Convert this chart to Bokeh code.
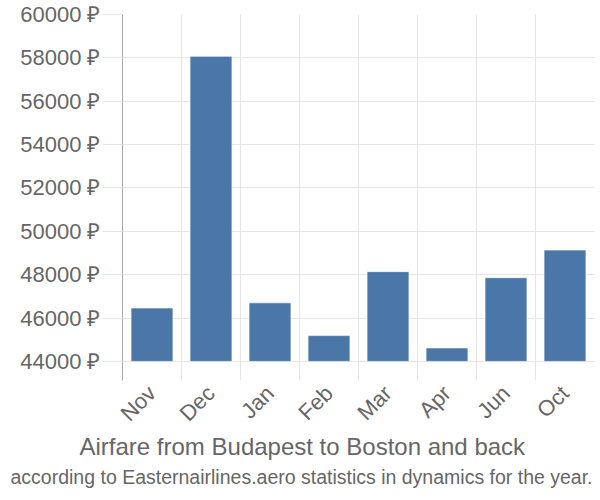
from bokeh.plotting import figure
from bokeh.models import FixedTicker, Range1d, Title
from bokeh.embed import file_html
from bokeh.resources import INLINE

months = ["Nov", "Dec", "Jan", "Feb", "Mar", "Apr", "Jun", "Oct"]
prices = [46460, 58070, 46700, 45190, 48140, 44620, 47860, 49135]
y_ticks = [44000, 46000, 48000, 50000, 52000, 54000, 56000, 58000, 60000]
title_text = "Airfare from Budapest to Boston and back"
subtitle_text = "according to Easternairlines.aero statistics in dynamics for the year."

n = len(months)
centers = [i + 0.5 for i in range(n)]
bounds = list(range(n + 1))

# 44000 sits 19px above frame bottom; 2000 per ~43.1px
y_lo = 44000 - 19 / 43.125 * 2000

p = figure(width=598, height=499, output_backend="svg", toolbar_location=None,
           x_range=Range1d(0, n), y_range=Range1d(y_lo, 60000),
           min_border_left=122, min_border_right=4, min_border_top=14,
           min_border_bottom=10)
p.outline_line_color = None
p.background_fill_color = "white"

p.vbar(x=centers, top=prices, bottom=44000, width=0.71,
       fill_color="#4a77a8", line_color="#ffffff", line_width=1, line_alpha=0.6)

# y axis
p.yaxis.ticker = FixedTicker(ticks=y_ticks)
p.yaxis.major_label_overrides = {t: f"{t} \u20bd" for t in y_ticks}
p.yaxis.axis_line_color = "#a8a8a8"
p.yaxis.axis_line_width = 1
p.yaxis.major_tick_line_color = "#e6e6e6"
p.yaxis.major_tick_out = 20
p.yaxis.major_tick_in = 0
p.yaxis.minor_tick_line_color = None
p.yaxis.major_label_standoff = 2
p.yaxis.major_label_text_font = "Liberation Sans"
p.yaxis.major_label_text_font_size = "22px"
p.yaxis.major_label_text_color = "#666666"
p.ygrid.ticker = FixedTicker(ticks=y_ticks)
p.ygrid.grid_line_color = "#e6e6e6"

# x axis
p.xaxis.ticker = FixedTicker(ticks=centers)
p.xaxis.major_label_overrides = {c: m for c, m in zip(centers, months)}
p.xaxis.axis_line_color = None
p.xaxis.major_tick_line_color = None
p.xaxis.minor_tick_line_color = None
p.xaxis.major_label_orientation = 0.785398
p.xaxis.major_label_standoff = 3
p.xaxis.major_label_text_font = "Liberation Sans"
p.xaxis.major_label_text_font_size = "22px"
p.xaxis.major_label_text_color = "#666666"
p.xgrid.ticker = FixedTicker(ticks=bounds)
p.xgrid.grid_line_color = "#e6e6e6"

t1 = Title(text=title_text, align="left", offset=-43, text_font="Liberation Sans",
           text_font_size="24px", text_color="#666666", text_font_style="normal",
           standoff=-14)
t2 = Title(text=subtitle_text, align="left", offset=-112, text_font="Liberation Sans",
           text_font_size="19.5px", text_color="#666666", text_font_style="normal",
           standoff=23)
p.add_layout(t1, "below")
p.add_layout(t2, "below")

open("out.html", "w").write(file_html(p, INLINE))
